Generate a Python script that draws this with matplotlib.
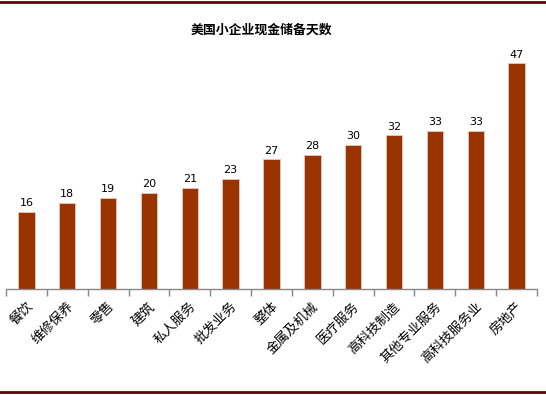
import matplotlib
matplotlib.use("Agg")
import matplotlib.pyplot as plt
from matplotlib.lines import Line2D

plt.rcParams['font.family'] = ['Noto Sans CJK SC', 'DejaVu Sans']

categories = ["餐饮", "维修保养", "零售", "建筑", "私人服务", "批发业务", "整体",
              "金属及机械", "医疗服务", "高科技制造", "其他专业服务", "高科技服务业", "房地产"]
values = [16, 18, 19, 20, 21, 23, 27, 28, 30, 32, 33, 33, 47]
title = "美国小企业现金储备天数"

fig = plt.figure(figsize=(5.46, 3.95), dpi=100)
ax = fig.add_axes([6/546, 1-289/395, 531/546, 240/395])
x = list(range(len(categories)))
bars = ax.bar(x, values, width=0.4, color="#993300", edgecolor="#e8c8c0", linewidth=0.6)
ax.set_xlim(-0.5, len(categories)-0.5)
ax.set_ylim(0, 50)
for xi, v in zip(x, values):
    ax.text(xi, v + 0.8, str(v), ha='center', va='bottom', fontsize=8,
            family='DejaVu Sans', color='black')
for s in ['top', 'right', 'left']:
    ax.spines[s].set_visible(False)
ax.spines['bottom'].set_color('#888888')
ax.spines['bottom'].set_linewidth(1)
ax.set_yticks([])
ax.set_xticks([i - 0.5 for i in range(len(categories)+1)], minor=False)
ax.set_xticklabels([])
ax.tick_params(axis='x', length=5, color='#888888', width=1)
for xi, c in zip(x, categories):
    ax.text(xi + 0.1, -3.2, c, rotation=45, rotation_mode='anchor', ha='right', va='center',
            fontsize=9.5, color='black')
fig.text(261/546, 1-30/395, title, ha='center', va='center', fontsize=9.3, fontweight='bold')
fig.add_artist(Line2D([0, 1], [1-2/395, 1-2/395], color='#6b0000', linewidth=2, transform=fig.transFigure))
fig.add_artist(Line2D([0, 1], [1-392/395, 1-392/395], color='#6b0000', linewidth=2, transform=fig.transFigure))
fig.savefig("out.png", dpi=100)
